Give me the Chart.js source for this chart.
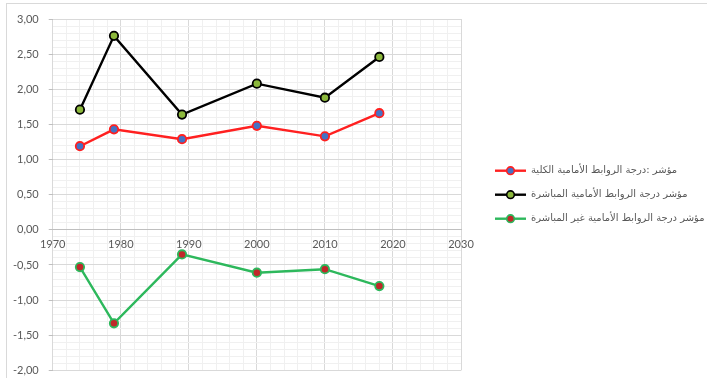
<!DOCTYPE html>
<html>
<head>
<meta charset="utf-8">
<script src="https://cdn.jsdelivr.net/npm/chart.js@4"></script>
<style>
    html, body { margin: 0; background: #fff; overflow: hidden; }
    #frame { position: absolute; left: 6px; top: 3px; width: 720px; height: 400px; border: 1px solid #d9d9d9; }
    #wrap { position: absolute; left: 0; top: 0; width: 707px; height: 387px; }
</style>
</head>
<body>
<div id="frame"></div>
<div id="wrap"><canvas id="chart"></canvas></div>
<script>
const years = [1974, 1979, 1989, 2000, 2010, 2018];

const totalLinks = [1.19, 1.43, 1.29, 1.48, 1.33, 1.66];
const directLinks = [1.71, 2.76, 1.64, 2.08, 1.88, 2.46];
const indirectLinks = [-0.53, -1.33, -0.35, -0.61, -0.56, -0.80];

const seriesNames = [
    "مؤشر :درجة الروابط الأمامية الكلية",
    "مؤشر درجة الروابط الأمامية المباشرة",
    "مؤشر درجة الروابط الأمامية غير المباشرة",
];

const lineColors = ["#ff2020", "#000000", "#2db85c"];
const markerColors = ["#4472c4", "#8cb83c", "#c0282a"];

const toPoints = (vals) => vals.map((v, i) => ({ x: years[i], y: v }));

const mkDataset = (idx, vals) => ({
    label: seriesNames[idx],
    data: toPoints(vals),
    borderColor: lineColors[idx],
    backgroundColor: markerColors[idx],
    borderWidth: 2.4,
    pointRadius: 4.2,
    pointBorderWidth: 1.8,
    pointBackgroundColor: markerColors[idx],
    pointBorderColor: lineColors[idx],
    tension: 0,
});

// legend on the right, line sample with marker then the arabic label
const sideLegend = {
    id: "sideLegend",
    afterDraw(chart) {
        const ctx = chart.ctx;
        const area = chart.chartArea;
        const x0 = area.right + 34;
        const midY = (area.top + area.bottom) / 2;
        chart.data.datasets.forEach((ds, i) => {
            const y = midY + (i - 1) * 24;
            ctx.save();
            ctx.strokeStyle = ds.borderColor;
            ctx.lineWidth = 2.4;
            ctx.beginPath();
            ctx.moveTo(x0, y);
            ctx.lineTo(x0 + 31, y);
            ctx.stroke();
            ctx.beginPath();
            ctx.arc(x0 + 15.5, y, 3.8, 0, Math.PI * 2);
            ctx.fillStyle = ds.backgroundColor;
            ctx.fill();
            ctx.lineWidth = 1.6;
            ctx.stroke();
            ctx.fillStyle = "#595959";
            ctx.font = "10px 'DejaVu Sans'";
            ctx.textAlign = "left";
            ctx.textBaseline = "middle";
            ctx.direction = "rtl";
            ctx.fillText(ds.label, x0 + 36, y);
            ctx.restore();
        });
    },
};

const isMajorX = (v) => v % 10 === 0;
const isMajorY = (v) => Math.round(v * 10) % 5 === 0;

const ctx = document.getElementById("chart").getContext("2d");

new Chart(ctx, {
    type: "scatter",
    data: {
        datasets: [
            mkDataset(0, totalLinks),
            mkDataset(1, directLinks),
            mkDataset(2, indirectLinks),
        ],
    },
    plugins: [sideLegend],
    options: {
        responsive: true,
        maintainAspectRatio: false,
        animation: false,
        showLine: true,
        layout: { padding: { left: 3, top: 19, right: 246, bottom: 0 } },
        plugins: {
            tooltip: { enabled: false },
            legend: { display: false },
        },
        scales: {
            x: {
                type: "linear",
                min: 1970,
                max: 2030,
                position: { y: 0 },
                afterFit: (scale) => { scale.height = 0; },
                border: { color: "#bfbfbf" },
                ticks: {
                    stepSize: 2,
                    autoSkip: false,
                    maxRotation: 0,
                    color: "#595959",
                    font: { family: "Lato", size: 11 },
                    padding: 8,
                    callback: (v) => (isMajorX(v) ? String(v) : ""),
                },
                grid: {
                    color: (c) => (c.tick && isMajorX(c.tick.value) ? "#d9d9d9" : "#f0f0f0"),
                    drawTicks: false,
                },
            },
            y: {
                min: -2,
                max: 3,
                border: { display: false },
                ticks: {
                    stepSize: 0.1,
                    autoSkip: false,
                    color: "#595959",
                    font: { family: "Lato", size: 11 },
                    padding: 10,
                    callback: (v) => (isMajorY(v) ? (Math.round(v * 10) / 10).toFixed(2).replace(".", ",") : ""),
                },
                grid: {
                    color: (c) => (c.tick && isMajorY(c.tick.value) ? "#d9d9d9" : "#f0f0f0"),
                    tickLength: 4,
                    tickColor: (c) => (c.tick && isMajorY(c.tick.value) ? "#bfbfbf" : "rgba(0,0,0,0)"),
                },
            },
        },
    },
});
</script>
</body>
</html>
